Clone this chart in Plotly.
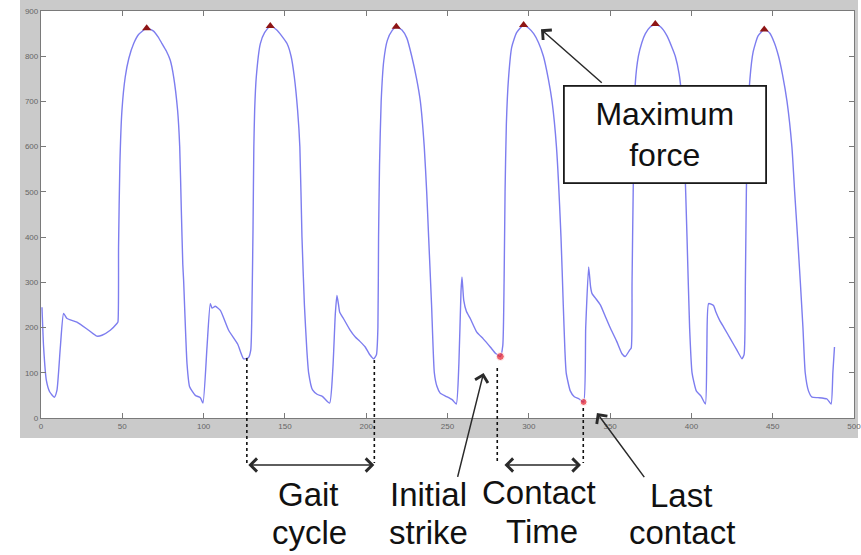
import plotly.graph_objects as go

# ---------------- data ----------------
time = [0.6, 1.6, 3.3, 5.3, 8.2, 9.8, 11.9, 13.9, 16, 22.1, 29.3, 34.4, 37.5, 42.6, 46.7,
        47.3, 47.7, 48.5, 49.8, 51.8, 54, 57, 60, 65, 69, 72, 74.4, 77, 79.5, 81.6, 84, 85.3,
        86.3, 87.2, 87.7, 89.8, 91.4, 94.9, 98, 99.6, 102.1, 104.1, 105.2, 107.2, 110.3, 115.4,
        121, 124.6, 127.5, 129, 129.8, 130.4, 130.9, 131.4, 132.4, 134.9, 137.5, 141, 145, 148,
        151.3, 153.8, 155.8, 157.8, 159.2, 160.5, 162, 163.5, 164.6, 167, 170, 173, 177.5, 179.5,
        181, 182, 183, 183.7, 186, 190, 193.3, 196, 199.4, 202, 204.6, 206.3, 207.2, 207.6,
        208.2, 209.2, 210.8, 213, 216, 218.5, 222, 225, 228, 231, 233.3, 235.7, 237.2, 238.4,
        240.2, 241.9, 243.5, 245.5, 249, 253, 255.4, 257, 258.3, 258.9, 260, 261.6, 264, 268,
        272, 276.3, 279.5, 282.5, 284, 284.8, 285.4, 286.2, 287.5, 289.5, 292.5, 296.8, 300,
        303, 306, 309, 312, 314.3, 317, 319.8, 321.2, 322.2, 323, 325.5, 328, 331, 333.7, 335,
        336.8, 338, 338.9, 341, 344, 347, 350, 354, 357.3, 359.3, 362, 363, 363.5, 364.2, 365.5,
        367.4, 369.5, 371.7, 374.5, 377.8, 381, 385, 388, 390.1, 392.5, 394.2, 395.6, 397.3,
        398.9, 400.4, 403, 406, 408.6, 409.5, 410.6, 413.6, 415, 417.4, 420, 424, 428, 431.1,
        432.4, 433.2, 433.8, 434.6, 436, 438, 441, 444.8, 448, 451, 453.6, 456, 458.8, 461.8,
        463.5, 465.3, 467, 468.6, 470, 472, 474.2, 478, 483.4, 485.9, 487, 488]
force = [245, 157, 83, 58, 46, 61, 157, 231, 220, 212, 194, 181, 183, 194, 209,
         212, 380, 560, 681, 754, 795, 828, 848, 862, 856, 843, 828, 812, 791, 754, 681, 600,
         460, 340, 305, 120, 69, 50, 45, 33, 157, 253, 243, 247, 238, 194,
         163, 131, 133, 150, 260, 420, 600, 681, 754, 828, 852, 867, 858, 845,
         828, 800, 754, 681, 600, 400, 250, 150, 100, 62, 52, 48, 33, 110,
         230, 271, 250, 234, 220, 195, 179, 170, 157, 141, 131, 140, 200, 400,
         560, 700, 790, 835, 857, 865, 858, 840, 800, 750, 700, 600, 500, 400,
         250, 100, 70, 55, 48, 40, 31, 120, 280, 312, 260, 236, 220, 190,
         175, 157, 143, 136, 160, 300, 500, 650, 750, 820, 852, 869, 862,
         850, 830, 800, 750, 700, 600, 400, 250, 150, 100, 60, 47, 42, 35, 200,
         334, 290, 275, 265, 250, 225, 200, 170, 142, 136, 150, 155, 300, 500, 740,
         800, 830, 850, 864, 871, 865, 845, 820, 800, 760, 703, 600, 400,
         200, 100, 60, 48, 31, 150, 253, 249, 235, 216, 200, 175, 150, 131,
         140, 300, 500, 650, 750, 810, 845, 859, 852, 830, 800, 760, 700, 600,
         500, 400, 300, 200, 100, 60, 46, 45, 42, 31, 100, 157]

peak_time = [65, 141, 218.5, 296.8, 377.8, 444.8]
peak_force = [862, 867, 865, 869, 871, 859]

strike_time = [282.5]
strike_force = [136]
last_time = [333.7]
last_force = [35.4]

gait_start, gait_end = 126.6, 205.0
contact_start, contact_end = 280.6, 333.5

x_ticks = [0, 50, 100, 150, 200, 250, 300, 350, 400, 450, 500]
y_ticks = [0, 100, 200, 300, 400, 500, 600, 700, 800, 900]

# ---------------- figure ----------------
W, H = 861, 555
ML, MR, MT, MB = 41, 7, 11, 137
PW, PH = W - ML - MR, H - MT - MB


def px(xp):
    return (xp - ML) / PW


def py(yp):
    return (H - MB - yp) / PH


fig = go.Figure()
fig.add_trace(go.Scatter(x=time, y=force, mode="lines",
                         line=dict(color="#7d7def", width=1.4, shape="spline", smoothing=0.5),
                         hoverinfo="skip"))
fig.add_trace(go.Scatter(x=peak_time, y=peak_force, mode="markers",
                         marker=dict(symbol="triangle-up", size=8, color="#8e1515"),
                         cliponaxis=False))
fig.add_trace(go.Scatter(x=strike_time + last_time, y=strike_force + last_force, mode="markers",
                         marker=dict(symbol="circle", size=[8, 7], color="#e8202a"),
                         cliponaxis=False))

shapes = [
    # grey MATLAB figure band
    dict(type="rect", xref="paper", yref="paper", x0=px(20), x1=px(858), y0=py(438), y1=py(0),
         fillcolor="#cacaca", line=dict(width=0), layer="below"),
    dict(type="rect", xref="paper", yref="paper", x0=0, x1=1, y0=0, y1=1,
         fillcolor="white", line=dict(width=0), layer="below"),
]
dot = dict(color="#111111", width=1.6, dash="dot")
for xv, ytop in [(gait_start, 358), (gait_end, 360), (contact_start, 368), (contact_end, 408)]:
    shapes.append(dict(type="line", xref="x", yref="paper", x0=xv, x1=xv,
                       y0=py(ytop), y1=py(463), line=dot, layer="above"))

ann = []
arrow_style = dict(arrowcolor="#2a2a2a", arrowwidth=1.5, arrowsize=1.7, arrowhead=4)
# double-headed arrows
for a, b in [(gait_start, gait_end), (284.1, 332.1)]:
    ann.append(dict(xref="x", yref="paper", x=b, y=py(465), axref="x", ayref="pixel",
                    ax=a, ay=0, text="", showarrow=True, arrowside="end+start",
                    startarrowhead=4, startarrowsize=1.7, standoff=0, startstandoff=0,
                    **arrow_style))
# pointer arrows
for hx, hy, tx, ty in [(307.5, 859.5, 345.8, 738.4),
                       (272.2, 99.6, 256.0, -133.4),
                       (341.9, 11.0, 371.7, -134.0)]:
    ann.append(dict(xref="x", yref="y", x=hx, y=hy, axref="x", ayref="y", ax=tx, ay=ty,
                    text="", showarrow=True, standoff=0, **arrow_style))

tfont = dict(family="Liberation Sans, Arial, sans-serif", size=33, color="#111111")
labels = [("Gait", 308, 494), ("cycle", 309, 532),
          ("Initial", 428.5, 494), ("strike", 428, 532),
          ("Contact", 538.5, 493), ("Time", 542, 531),
          ("Last", 681, 495), ("contact", 682, 532)]
for t, xp, yp in labels:
    ann.append(dict(xref="paper", yref="paper", x=px(xp), y=py(yp), text=t, showarrow=False,
                    xanchor="center", yanchor="middle", font=tfont))

ann.append(dict(xref="paper", yref="paper", x=px(665), y=py(134), text="Maximum<br>force",
                showarrow=False, xanchor="center", yanchor="middle",
                font=dict(family="Liberation Sans, Arial, sans-serif", size=32, color="#111111"),
                bgcolor="white", bordercolor="#1a1a1a", borderwidth=1.8, borderpad=0,
                width=200, height=95, align="center"))

axis_common = dict(showgrid=False, zeroline=False, showline=True, linecolor="#7a7a7a",
                   linewidth=1.3, mirror="ticks", ticks="inside", ticklen=5,
                   tickcolor="#7a7a7a", tickwidth=1, ticklabeloverflow="allow",
                   automargin=False,
                   tickfont=dict(family="Liberation Sans, Arial, sans-serif", size=8,
                                 color="#666666"))

fig.update_layout(
    width=W, height=H, margin=dict(l=ML, r=MR, t=MT, b=MB, autoexpand=False),
    paper_bgcolor="white", plot_bgcolor="white", showlegend=False,
    xaxis=dict(range=[0, 500], tickvals=x_ticks, ticktext=[str(v) for v in x_ticks],
               **axis_common),
    yaxis=dict(range=[0, 900], tickvals=y_ticks, ticktext=[str(v) for v in y_ticks],
               **axis_common),
    shapes=shapes, annotations=ann,
)

fig.write_html("out.html")
